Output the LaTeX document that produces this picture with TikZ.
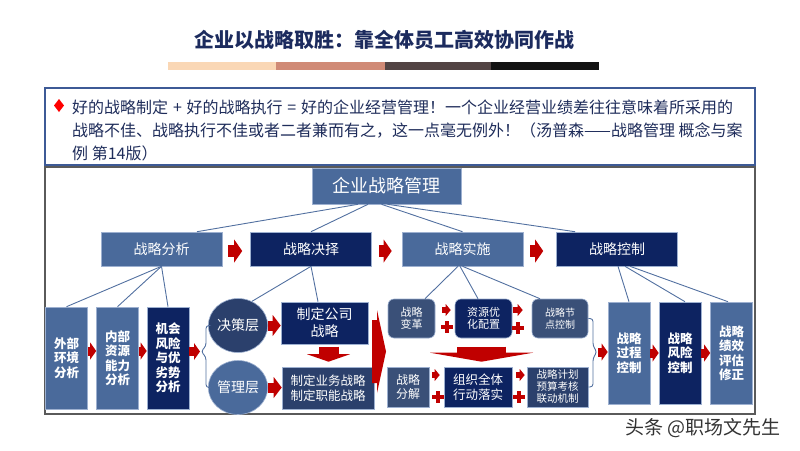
\documentclass[tikz,border=0pt]{standalone}
\usepackage{fontspec}
\setmainfont{Noto Sans CJK SC}
\usetikzlibrary{arrows.meta, positioning, calc, shapes.geometric}

\definecolor{titleblue}{HTML}{1C2B5E}
\definecolor{quotetext}{HTML}{1E2C5A}
\definecolor{midblue}{HTML}{4A6A9B}
\definecolor{navy}{HTML}{0D2361}
\definecolor{slate}{HTML}{3A5078}
\definecolor{deepblue}{HTML}{2B406C}
\definecolor{linkblue}{HTML}{5270A0}
\definecolor{arrowred}{HTML}{C00000}
\definecolor{frameborder}{HTML}{5A5A5A}
\definecolor{quoteborder}{HTML}{3D5A96}
\definecolor{boxedge}{HTML}{9DB0D0}
\definecolor{barpeach}{HTML}{FAD7B5}
\definecolor{barsalmon}{HTML}{D08A76}
\definecolor{barbrown}{HTML}{524444}
\definecolor{barblack}{HTML}{121212}

\begin{document}
\begin{tikzpicture}[x=1pt, y=-1pt,
    box/.style={rectangle, draw=boxedge, line width=0.6pt, text=white, align=center, inner sep=0pt},
    midbox/.style={box, fill=midblue},
    navybox/.style={box, fill=navy},
    stage/.style={minimum width=121pt, minimum height=34pt, font=\fontsize{14}{16}\selectfont},
    column/.style={minimum width=42pt, minimum height=102pt, font=\fontsize{12.5}{14.5}\selectfont\bfseries},
    layer/.style={ellipse, draw=boxedge, line width=0.6pt, minimum width=58pt, minimum height=54pt,
        inner sep=0pt, text=white, font=\fontsize{14}{16}\selectfont},
    tile/.style={box, rounded corners=6pt, minimum height=39pt},
    quote/.style={text=quotetext, inner sep=0pt, font=\fontsize{16}{20}\selectfont},
    link/.style={draw=linkblue, line width=0.9pt},
    bigred/.style={color=arrowred, line width=12pt, -{Triangle[length=8pt, width=23pt, line width=0pt]}},
    midred/.style={color=arrowred, line width=10pt, -{Triangle[length=8pt, width=21pt, line width=0pt]}},
    redarr/.style={color=arrowred, line width=9pt, -{Triangle[length=6pt, width=17pt, line width=0pt]}},
    tinyred/.style={color=arrowred, line width=6pt, -{Triangle[length=5pt, width=12pt, line width=0pt]}},
    downred/.style={color=arrowred, line width=20pt, -{Triangle[length=7.5pt, width=43pt, line width=0pt]}},
    widered/.style={color=arrowred, line width=49pt, -{Triangle[length=9pt, width=103pt, line width=0pt]}},
    cross/.style={draw=arrowred, line width=4pt}]
    \useasboundingbox (0,0) rectangle (800,450);

    % Title and colour bar
    \node[font=\fontsize{20}{24}\selectfont\bfseries, text=titleblue] (title) at (384,40) {企业以战略取胜：靠全体员工高效协同作战};
    \fill[barpeach] (168,62) rectangle (276,70);
    \fill[barsalmon] (276,62) rectangle (385,70);
    \fill[barbrown] (385,62) rectangle (491,70);
    \fill[barblack] (491,62) rectangle (599,70);

    % Quote box
    \draw[quoteborder, line width=1.3pt] (45,88) rectangle (755,165);
    \fill[red] (59,99) -- (64,105.5) -- (59,112) -- (54,105.5) -- cycle;
    \node[quote, anchor=base west] (q1) at (72,113) {好的战略制定\hspace{0.3em}+\hspace{0.3em}好的战略执行\hspace{0.3em}=\hspace{0.3em}好的企业经营管理！一个企业经营业绩差往往意味着所采用的};
    \node[quote, anchor=base west] (q2) at (72,136) {战略不佳、战略执行不佳或者二者兼而有之，这一点毫无例外！（汤普森——战略管理 概念与案};
    \node[quote, anchor=base west] (q3) at (72,159) {例 第14版）};

    % Frame
    \draw[frameborder, line width=2pt] (45,167) rectangle (755,414);

    % Top and the four stages
    \node[midbox, minimum width=149pt, minimum height=36pt, font=\fontsize{18}{20}\selectfont] (esm) at (386.5,186) {企业战略管理};
    \node[midbox, stage] (ana) at (161.5,249) {战略分析};
    \node[navybox, stage] (dec) at (311,249) {战略决择};
    \node[midbox, stage] (imp) at (462.5,249) {战略实施};
    \node[navybox, stage] (ctl) at (617,249) {战略控制};

    % Analysis
    \node[midbox, column] (ext) at (66.5,358) {外部\\环境\\分析};
    \node[midbox, column] (inn) at (117.5,358) {内部\\资源\\能力\\分析};
    \node[navybox, column] (opp) at (168,358) {机会\\风险\\与优\\劣势\\分析};
    \coordinate (lb) at (201,351.5);

    % Decision
    \node[layer, fill=deepblue] (jcc) at (238,325.5) {决策层};
    \node[layer, fill=midblue] (glc) at (238,387.5) {管理层};
    \node[navybox, minimum width=87pt, minimum height=42pt, font=\fontsize{14}{17}\selectfont] (corp) at (324.5,323) {制定公司\\战略};
    \node[box, fill=deepblue, minimum width=92pt, minimum height=42pt, font=\fontsize{12.5}{15}\selectfont] (biz) at (328,388) {制定业务战略\\制定职能战略};

    % Implementation
    \node[tile, fill=slate, minimum width=47pt, font=\fontsize{11}{12.5}\selectfont] (chg) at (411.5,318.5) {战略\\变革};
    \node[tile, fill=navy, minimum width=57pt, font=\fontsize{11}{12.5}\selectfont] (res) at (483.5,318.5) {资源优\\化配置};
    \node[tile, fill=slate, minimum width=56pt, font=\fontsize{10}{12}\selectfont] (kp) at (560,318.5) {战略节\\点控制};
    \node[box, fill=slate, minimum width=42pt, minimum height=40pt, font=\fontsize{12}{13.5}\selectfont] (dcp) at (408,387) {战略\\分解};
    \node[navybox, minimum width=68pt, minimum height=40pt, font=\fontsize{12.5}{15}\selectfont] (org) at (478,387) {组织全体\\行动落实};
    \node[box, fill=deepblue, minimum width=61pt, minimum height=40pt, font=\fontsize{10.5}{12}\selectfont] (plan) at (557.5,387) {战略计划\\预算考核\\联动机制};
    \coordinate (rb) at (597,352);

    % Control
    \node[midbox, column] (pcc) at (629,353) {战略\\过程\\控制};
    \node[navybox, column] (rkc) at (680,353) {战略\\风险\\控制};
    \node[midbox, column] (evc) at (731.5,353) {战略\\绩效\\评估\\修正};

    % Links
    \draw[link] ($(esm.south)+(-28.5,0)$) -- ($(ana.north)+(35.5,0)$);
    \draw[link] ($(esm.south)+(-18.5,0)$) -- (dec.north);
    \draw[link] ($(esm.south)+(-5,0)$) -- (imp.north);
    \draw[link] ($(esm.south)+(1,0)$) -- ($(ctl.north)+(-42,0)$);
    \draw[link] (ana.south) -- (ext.north);
    \draw[link] (ana.south) -- (inn.north);
    \draw[link] (ana.south) -- (opp.north);
    \draw[link] (dec.south) -- (jcc.60);
    \draw[link] (dec.south) -- ($(corp.north)+(-6.5,0)$);
    \draw[link] ($(imp.south)+(-4.5,0)$) -- ($(chg.north)+(13.5,0)$);
    \draw[link] ($(imp.south)+(-2.5,0)$) -- ($(res.north)+(-5.5,0)$);
    \draw[link] (imp.south) -- ($(kp.north)+(-20,0)$);
    \draw[link] ($(ctl.south)+(1,0)$) -- (pcc.north);
    \draw[link] ($(ctl.south)+(8,0)$) -- ($(rkc.north)+(5,0)$);
    \draw[link] ($(ctl.south)+(13,0)$) -- ($(evc.north)+(-3.5,0)$);

    % Braces
    \draw[link, rounded corners=3pt] (jcc.west) -| (206,346) -- (lb) -- (206,357) |- (glc.west);
    \draw[link, rounded corners=3pt] (kp.east) -| (593,346) -- (rb) -- (593,358) |- (plan.east);

    % Red arrows
    \draw[bigred, shorten <=6pt, shorten >=8pt] ($(ana.east)+(0,2)$) -- ($(dec.west)+(0,2)$);
    \draw[bigred, shorten <=7pt, shorten >=10pt] ($(dec.east)+(0,2)$) -- ($(imp.west)+(0,2)$);
    \draw[bigred, shorten <=7pt, shorten >=13pt] ($(imp.east)+(0,2)$) -- ($(ctl.west)+(0,2)$);
    \draw[redarr] ($(ext.east)+(0,-7)$) -- ($(inn.west)+(0,-7)$);
    \draw[redarr] ($(inn.east)+(0,-7)$) -- ($(opp.west)+(0,-7)$);
    \draw[redarr, shorten >=1pt] ($(opp.east)+(0,-6.5)$) -- (lb);
    \draw[midred] (jcc.east) -- (jcc.east -| corp.west);
    \draw[midred] (glc.east) -- (glc.east -| biz.west);
    \draw[downred] ($(biz.north)+(0.5,-20)$) -- ($(biz.north)+(0.5,-5)$);
    \fill[arrowred] (372,320) -- (377,320) -- (377,310) -- (386,351.5) -- (377,393) -- (377,383) -- (372,383) -- cycle;
    \draw[tinyred, shorten <=7pt, shorten >=4pt] ($(chg.east)+(0,-8.5)$) -- ($(res.west)+(0,-8.5)$);
    \draw[tinyred, shorten <=1pt, shorten >=9pt] ($(res.east)+(0,-8.5)$) -- ($(kp.west)+(0,-8.5)$);
    \draw[tinyred, shorten <=3pt, shorten >=4pt] ($(dcp.east)+(0,-12)$) -- ($(org.west)+(0,-12)$);
    \draw[tinyred, shorten <=4pt, shorten >=2pt] ($(org.east)+(0,-12)$) -- ($(plan.west)+(0,-12)$);
    \draw[widered] ($(org.north)+(3.5,-20)$) -- ($(org.north)+(3.5,-5)$);
    \draw[redarr, shorten <=1pt] (rb) -- (rb -| pcc.west);
    \draw[redarr] (pcc.east) -- (rkc.west);
    \draw[redarr] (rkc.east) -- (evc.west);

    % Plus signs
    \draw[cross] (441,327) -- (453,327) (447,321) -- (447,333);
    \draw[cross] (512,328) -- (524,328) (518,322) -- (518,334);
    \draw[cross] (432,397) -- (444,397) (438,391) -- (438,403);
    \draw[cross] (513,397) -- (525,397) (519,391) -- (519,403);

    % Watermark
    \node[text=black!80, font=\fontsize{19}{21}\selectfont] (mark) at (703,428) {头条 @职场文先生};
\end{tikzpicture}
\end{document}
